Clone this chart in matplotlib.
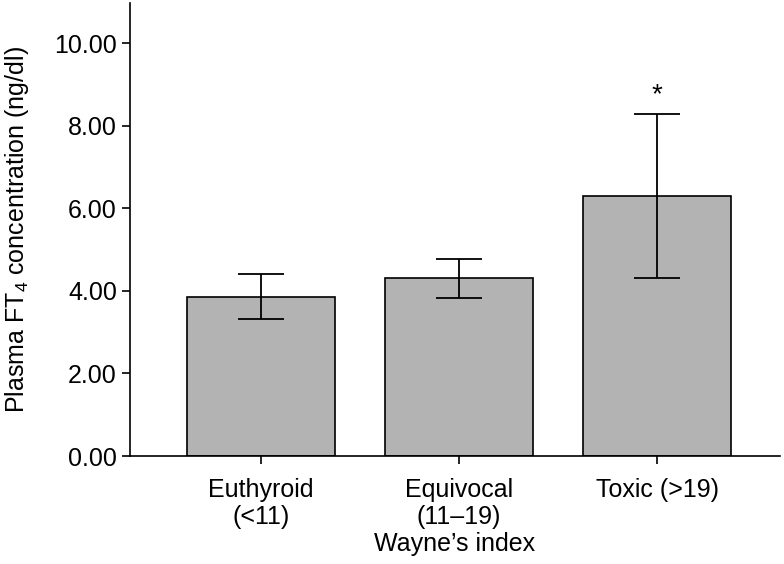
import matplotlib
matplotlib.use("Agg")
import matplotlib.pyplot as plt

categories = ["Euthyroid\n(<11)", "Equivocal\n(11\u201319)", "Toxic (>19)"]
means = [3.86, 4.30, 6.29]
errors = [0.55, 0.48, 1.99]
significant = [False, False, True]

plt.rcParams['font.family'] = ['Liberation Sans', 'DejaVu Sans']
plt.rcParams['mathtext.fontset'] = 'custom'
plt.rcParams['mathtext.rm'] = 'Liberation Sans'
plt.rcParams['mathtext.it'] = 'Liberation Sans:italic'

fig = plt.figure(figsize=(7.84, 5.64), dpi=100)
ax = fig.add_axes([130/784, 1-456/564, 650/784, 453/564])

x = list(range(len(categories)))
ax.bar(x, means, width=0.747, color='#b3b3b3', edgecolor='black', linewidth=1.2, zorder=2)
ax.errorbar(x, means, yerr=errors, fmt='none', ecolor='black', elinewidth=1.3,
            capsize=16.5, capthick=1.3, zorder=3)
for xi, m, e, s in zip(x, means, errors, significant):
    if s:
        ax.annotate('*', xy=(xi, m + e), xytext=(0, 4), textcoords='offset points',
                    ha='center', va='bottom', fontsize=20)

ax.set_xlim(-0.66, 2.62)
ax.set_ylim(0, 10.97)
ax.set_yticks([0, 2, 4, 6, 8, 10])
ax.set_yticklabels([f"{v:.2f}" for v in [0, 2, 4, 6, 8, 10]])
ax.set_xticks(x)
ax.set_xticklabels(categories)
ax.spines['top'].set_visible(False)
ax.spines['right'].set_visible(False)
for sp in ['left', 'bottom']:
    ax.spines[sp].set_linewidth(1.2)
ax.tick_params(axis='both', direction='out', length=5.5, width=1.2, labelsize=18, pad=4)
ax.tick_params(axis='x', pad=10)
ax.set_ylabel("Plasma FT$_{\\mathrm{4}}$ concentration (ng/dl)", fontsize=18)
ax.yaxis.set_label_coords(-0.153, 0.5)
ax.set_xlabel("Wayne\u2019s index", fontsize=18, labelpad=2)

fig.savefig("out.png", dpi=100)
